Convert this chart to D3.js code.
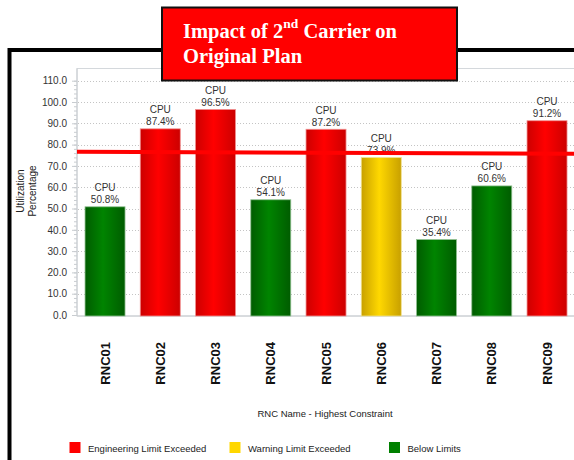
<!DOCTYPE html>
<html>
<head>
<meta charset="utf-8">
<script src="https://cdn.jsdelivr.net/npm/d3@7"></script>
<style>
	html, body { margin: 0; padding: 0; background: #fff; overflow: hidden; }
	svg { display: block; font-family: Arial, "Liberation Sans", sans-serif; }
	.title-text { font-family: "Liberation Serif", "Times New Roman", serif; }
</style>
</head>
<body>
<script>
	// chart data
	var rncNames = ['RNC01', 'RNC02', 'RNC03', 'RNC04', 'RNC05', 'RNC06', 'RNC07', 'RNC08', 'RNC09'];
	var cpuValues = [50.8, 87.4, 96.5, 54.1, 87.2, 73.9, 35.4, 60.6, 91.2];
	var limitStatus = ['below', 'eng', 'eng', 'below', 'eng', 'warn', 'below', 'below', 'eng'];
	var constraintNames = ['CPU', 'CPU', 'CPU', 'CPU', 'CPU', 'CPU', 'CPU', 'CPU', 'CPU'];
	var yTicks = [0, 10, 20, 30, 40, 50, 60, 70, 80, 90, 100, 110];
	var limitLineValues = [76.6, 75.7];   // hand drawn red line, slightly sloped
	var legendKeys = ['eng', 'warn', 'below'];
	var legendLabels = ['Engineering Limit Exceeded', 'Warning Limit Exceeded', 'Below Limits'];

	var width = 574, height = 460;

	var colors = {
		eng: {dark: '#cc0000', light: '#ff0000', edge: '#f09090', key: '#ff0000'},
		warn: {dark: '#c8a000', light: '#ffd800', edge: '#f0e090', key: '#ffd700'},
		below: {dark: '#005c00', light: '#008400', edge: '#90c090', key: '#008000'}
	};

	var svg = d3.select('body').append('svg')
		.attr('width', width)
		.attr('height', height);

	var defs = svg.append('defs');
	legendKeys.forEach(function (k)
	{
		var g = defs.append('linearGradient')
			.attr('id', 'grad-' + k)
			.attr('x1', '0%').attr('x2', '100%')
			.attr('y1', '0%').attr('y2', '0%');
		g.append('stop').attr('offset', '0%').attr('stop-color', colors[k].dark);
		g.append('stop').attr('offset', '45%').attr('stop-color', colors[k].light);
		g.append('stop').attr('offset', '100%').attr('stop-color', colors[k].dark);
	});

	// outer slide frame
	svg.append('rect')
		.attr('x', 9.5).attr('y', 50)
		.attr('width', 700).attr('height', 600)
		.attr('fill', 'none')
		.attr('stroke', '#000')
		.attr('stroke-width', 4);

	var plot = {left: 77.4, top: 68.5, right: 574.65, bottom: 315};

	var x = d3.scaleBand()
		.domain(rncNames)
		.range([plot.left, plot.right])
		.paddingInner(0.276)
		.paddingOuter(0.138);

	var y = d3.scaleLinear()
		.domain([0, 110])
		.range([plot.bottom, 80.7]);

	// plot area border
	svg.append('rect')
		.attr('x', 77).attr('y', plot.top)
		.attr('width', 600).attr('height', plot.bottom - plot.top + 1)
		.attr('fill', 'none')
		.attr('stroke', '#d4d8dc')
		.attr('stroke-width', 1);

	// dotted grid
	svg.append('g').selectAll('line')
		.data(yTicks.filter(function (d) { return d > 0; }))
		.enter().append('line')
		.attr('x1', 78).attr('x2', width)
		.attr('y1', function (d) { return Math.round(y(d)) + 0.5; })
		.attr('y2', function (d) { return Math.round(y(d)) + 0.5; })
		.attr('stroke', '#c4c4c4')
		.attr('stroke-dasharray', '1,2');

	// minor ticks
	var minorAxis = d3.axisLeft(y)
		.tickValues(d3.range(0, 111, 2))
		.tickSize(3)
		.tickFormat('');
	var minorG = svg.append('g')
		.attr('transform', 'translate(77,0)')
		.call(minorAxis);
	minorG.selectAll('line').attr('stroke', '#c8ccd0');
	minorG.select('.domain').remove();

	var yAxis = d3.axisLeft(y)
		.tickValues(yTicks)
		.tickSize(5)
		.tickPadding(5)
		.tickFormat(d3.format('.1f'));
	var yG = svg.append('g')
		.attr('transform', 'translate(77,0)')
		.call(yAxis);
	yG.select('.domain').remove();
	yG.selectAll('line').attr('stroke', '#c8ccd0');
	yG.selectAll('text')
		.attr('font-size', '10px')
		.attr('font-family', 'Arial, "Liberation Sans", sans-serif')
		.attr('fill', '#333');

	// axis lines
	svg.append('line')
		.attr('x1', 77).attr('x2', 77)
		.attr('y1', plot.top).attr('y2', plot.bottom + 1)
		.attr('stroke', '#c8ccd0');
	svg.append('line')
		.attr('x1', 77).attr('x2', width)
		.attr('y1', plot.bottom + 1).attr('y2', plot.bottom + 1)
		.attr('stroke', '#c8ccd0');

	// y axis title
	svg.append('text')
		.attr('transform', 'translate(24,191) rotate(-90)')
		.attr('text-anchor', 'middle')
		.attr('font-size', '10px')
		.attr('fill', '#222')
		.selectAll('tspan')
		.data(['Utilization', 'Percentage'])
		.enter().append('tspan')
		.attr('x', 0)
		.attr('dy', function (d, i) { return i === 0 ? 0 : 11.5; })
		.text(function (d) { return d; });

	// bars
	svg.append('g').selectAll('rect')
		.data(rncNames)
		.enter().append('rect')
		.attr('x', function (d) { return x(d); })
		.attr('y', function (d, i) { return y(cpuValues[i]); })
		.attr('width', x.bandwidth())
		.attr('height', function (d, i) { return y(0) - y(cpuValues[i]) + 1; })
		.attr('fill', function (d, i) { return 'url(#grad-' + limitStatus[i] + ')'; })
		.attr('stroke', function (d, i) { return colors[limitStatus[i]].edge; })
		.attr('stroke-width', 0.8);

	// value labels
	var labels = svg.append('g').selectAll('g')
		.data(rncNames)
		.enter().append('g')
		.attr('transform', function (d, i)
		{
			return 'translate(' + (x(d) + x.bandwidth() / 2) + ',' + y(cpuValues[i]) + ')';
		});
	labels.append('text')
		.attr('y', -15.5)
		.attr('text-anchor', 'middle')
		.attr('font-size', '10px')
		.attr('fill', '#333')
		.text(function (d, i) { return constraintNames[i]; });
	labels.append('text')
		.attr('y', -3.5)
		.attr('text-anchor', 'middle')
		.attr('font-size', '10px')
		.attr('fill', '#333')
		.text(function (d, i) { return cpuValues[i].toFixed(1) + '%'; });

	// x labels
	svg.append('g').selectAll('text')
		.data(rncNames)
		.enter().append('text')
		.attr('transform', function (d)
		{
			return 'translate(' + (x(d) + x.bandwidth() / 2) + ',342) rotate(-90)';
		})
		.attr('text-anchor', 'end')
		.attr('dy', '0.35em')
		.attr('font-size', '13px')
		.attr('font-weight', 'bold')
		.attr('fill', '#111')
		.text(function (d) { return d; });

	svg.append('text')
		.attr('x', 325).attr('y', 417)
		.attr('text-anchor', 'middle')
		.attr('font-size', '9.5px')
		.attr('fill', '#222')
		.text('RNC Name - Highest Constraint');

	// engineering limit line
	svg.append('line')
		.attr('x1', 77).attr('x2', width + 1)
		.attr('y1', y(limitLineValues[0]))
		.attr('y2', y(limitLineValues[1]))
		.attr('stroke', '#ff0000')
		.attr('stroke-width', 4);

	// legend
	var legendX = [69.5, 229.5, 389];
	var legend = svg.append('g').selectAll('g')
		.data(legendKeys)
		.enter().append('g')
		.attr('transform', function (d, i) { return 'translate(' + legendX[i] + ',442)'; });
	legend.append('rect')
		.attr('width', 11).attr('height', 11)
		.attr('fill', function (d) { return colors[d].key; });
	legend.append('text')
		.attr('x', 18.5).attr('y', 9.5)
		.attr('font-size', '9.5px')
		.attr('fill', '#222')
		.text(function (d, i) { return legendLabels[i]; });

	// title box
	svg.append('rect')
		.attr('x', 162).attr('y', 7.5)
		.attr('width', 295).attr('height', 73)
		.attr('fill', '#ff0000')
		.attr('stroke', '#111')
		.attr('stroke-width', 2);
	var title = svg.append('text')
		.attr('class', 'title-text')
		.attr('x', 183).attr('y', 37.5)
		.attr('font-weight', 'bold')
		.attr('font-size', '20.5px')
		.attr('fill', '#fff');
	title.append('tspan').text('Impact of 2');
	title.append('tspan').attr('font-size', '13.5px').attr('dy', -9.5).text('nd');
	title.append('tspan').attr('dy', 9.5).text(' Carrier on');
	svg.append('text')
		.attr('class', 'title-text')
		.attr('x', 183).attr('y', 62.5)
		.attr('font-weight', 'bold')
		.attr('font-size', '20.5px')
		.attr('fill', '#fff')
		.text('Original Plan');
</script>
</body>
</html>
